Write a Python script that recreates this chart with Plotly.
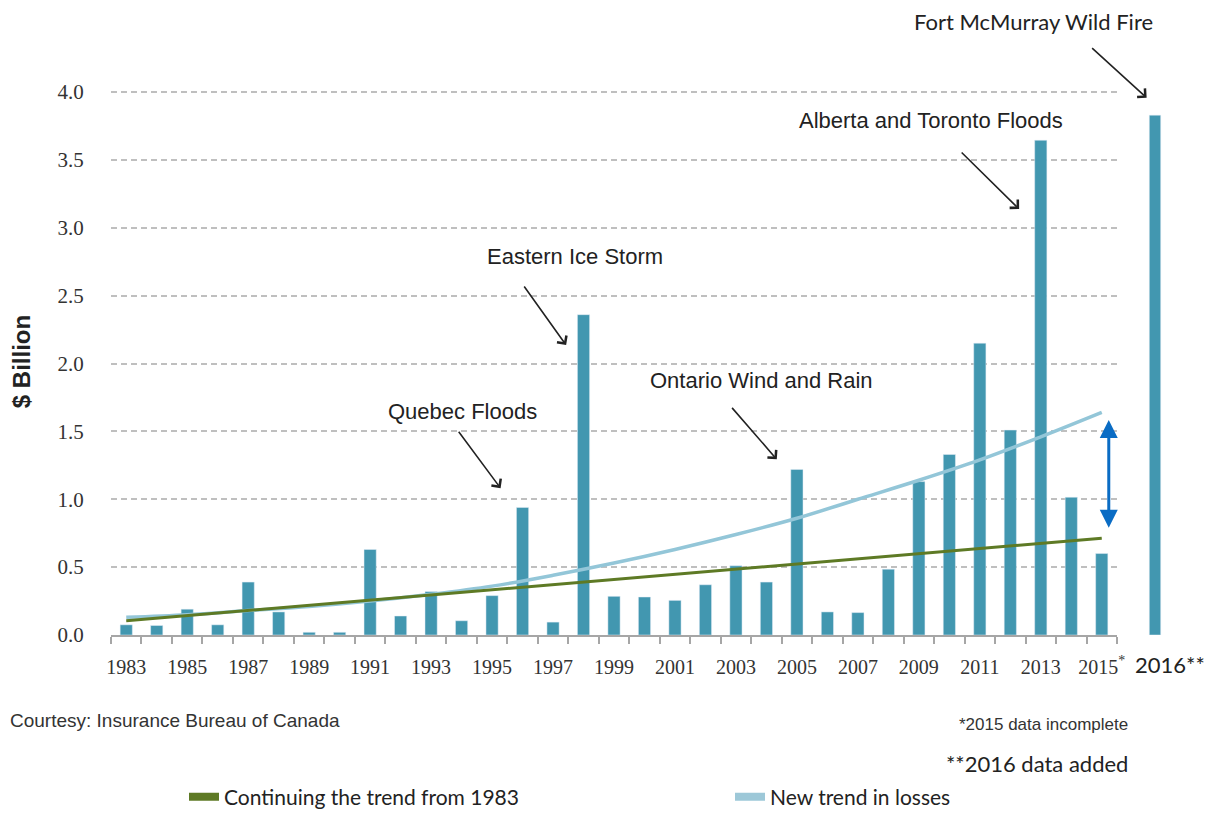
import plotly.graph_objects as go

# ---------------- data ----------------
years = list(range(1983, 2016))
losses = [0.075, 0.07, 0.19, 0.075, 0.39, 0.17, 0.02, 0.02, 0.63, 0.14,
          0.32, 0.105, 0.29, 0.94, 0.095, 2.36, 0.285, 0.28, 0.255, 0.37,
          0.51, 0.39, 1.22, 0.17, 0.165, 0.485, 1.13, 1.33, 2.15, 1.51,
          3.645, 1.015, 0.60]
year_2016 = [2016]
loss_2016 = [3.83]

old_trend_years = [1983, 2015]
old_trend = [0.105, 0.713]

new_trend_years = [1983, 1985, 1987, 1989, 1991, 1993, 1995, 1997, 1999,
                   2001, 2003, 2005, 2007, 2009, 2011, 2013, 2015]
new_trend = [0.13, 0.15, 0.18, 0.21, 0.25, 0.30, 0.36, 0.44, 0.53,
             0.63, 0.74, 0.86, 1.00, 1.14, 1.29, 1.46, 1.64]

tick_years = [1983, 1985, 1987, 1989, 1991, 1993, 1995, 1997, 1999,
              2001, 2003, 2005, 2007, 2009, 2011, 2013, 2015]
tick_labels = ["1983", "1985", "1987", "1989", "1991", "1993", "1995", "1997",
               "1999", "2001", "2003", "2005", "2007", "2009", "2011", "2013",
               "2015<sup>*</sup>"]
y_ticks = [0.0, 0.5, 1.0, 1.5, 2.0, 2.5, 3.0, 3.5, 4.0]
y_tick_labels = ["0.0", "0.5", "1.0", "1.5", "2.0", "2.5", "3.0", "3.5", "4.0"]

BAR = "#4297B0"
GREEN = "#5E7A25"
LIGHT = "#93C6D8"
SANS = "Liberation Sans, Arial, sans-serif"
SERIF = "Liberation Serif, Times New Roman, serif"
CAL = "Lato, Carlito, sans-serif"

# plot-area geometry (pixels) used to place free text
L, R, T, B = 111, 21, 88, 180
W = 1214 - L - R
H = 815 - T - B
Y0 = 815 - B


def px(xp):
    return (xp - L) / W


def py(yp):
    return (Y0 - yp) / H


fig = go.Figure()

fig.add_trace(go.Bar(x=years, y=losses, marker_color=BAR, width=0.4,
                     showlegend=False))
fig.add_trace(go.Bar(x=year_2016, y=loss_2016, marker_color=BAR, width=0.15,
                     xaxis="x2", yaxis="y2", showlegend=False))
fig.add_trace(go.Scatter(x=new_trend_years, y=new_trend, mode="lines",
                         line=dict(color=LIGHT, width=3.5, shape="spline"),
                         showlegend=False))
fig.add_trace(go.Scatter(x=old_trend_years, y=old_trend, mode="lines",
                         line=dict(color=GREEN, width=3), showlegend=False))
# legend entries
fig.add_trace(go.Scatter(x=[None], y=[None], mode="lines",
                         line=dict(color=GREEN, width=8),
                         name="Continuing the trend from 1983", legend="legend"))
fig.add_trace(go.Scatter(x=[None], y=[None], mode="lines",
                         line=dict(color="#9DC8D8", width=8),
                         name="New trend in losses", legend="legend2"))

split = 1006 / W
leg_font = dict(family=CAL, size=21, color="#222222")
YMAX = 4.03

fig.update_layout(
    width=1214, height=815,
    margin=dict(l=L, r=R, t=T, b=B, autoexpand=False),
    paper_bgcolor="white", plot_bgcolor="white",
    xaxis=dict(domain=[0, split], range=[1982.5, 2015.5],
               tickvals=tick_years, ticktext=tick_labels,
               ticks="outside", ticklen=13, tickcolor="rgba(0,0,0,0)",
               tickfont=dict(family=SERIF, size=20, color="#333333"),
               showline=True, linecolor="#A6A6A6", linewidth=1.5,
               showgrid=False, zeroline=False,
               minor=dict(tick0=1982.5, dtick=1, ticks="outside",
                          ticklen=7, tickcolor="#A6A6A6", tickwidth=1.5,
                          showgrid=False)),
    yaxis=dict(range=[0, YMAX], tickvals=y_ticks, ticktext=y_tick_labels,
               ticks="outside", ticklen=22, tickcolor="rgba(0,0,0,0)",
               tickfont=dict(family=SERIF, size=21, color="#333333"),
               showgrid=True, gridcolor="#BFBFBF", gridwidth=1.5,
               griddash="6px,4px", zeroline=False, showline=False,
               title=dict(text="<b>$ Billion</b>", standoff=20,
                          font=dict(family=SANS, size=24, color="#222222"))),
    xaxis2=dict(domain=[split, 1], range=[2015.5, 2016.5], anchor="y2",
                visible=False),
    yaxis2=dict(range=[0, YMAX], anchor="x2", visible=False, showgrid=False),
    legend=dict(orientation="h", x=px(184), y=py(797), xanchor="left",
                yanchor="middle", font=leg_font, bgcolor="rgba(0,0,0,0)",
                borderwidth=0),
    legend2=dict(orientation="h", x=px(730), y=py(797), xanchor="left",
                 yanchor="middle", font=leg_font, bgcolor="rgba(0,0,0,0)",
                 borderwidth=0),
)

ann_font = dict(family=SANS, size=22, color="#222222")
labels = [
    ("Eastern Ice Storm", 575, 256),
    ("Quebec Floods", 462, 411),
    ("Ontario Wind and Rain", 761, 380),
    ("Alberta and Toronto Floods", 931, 120),
]
for text, xp, yp in labels:
    fig.add_annotation(text=text, xref="paper", yref="paper",
                       x=px(xp), y=py(yp), showarrow=False, font=ann_font,
                       xanchor="center", yanchor="middle")

fig.add_annotation(text="Fort McMurray Wild Fire", xref="paper", yref="paper",
                   x=px(1033), y=py(21), showarrow=False, xanchor="center",
                   yanchor="middle",
                   font=dict(family=CAL, size=22, color="#222222"))

arrows = [  # tip (x data, y data), tail offset px
    (1997.43, 2.136, -43, -60),
    (1995.28, 1.081, -43, -58),
    (2004.34, 1.294, -46, -53),
    (2012.29, 3.138, -59, -58),
]
for x, y, ax, ay in arrows:
    fig.add_annotation(x=x, y=y, xref="x", yref="y", ax=ax, ay=ay,
                       text="", showarrow=True, arrowhead=4, arrowsize=1.4,
                       arrowwidth=1.6, arrowcolor="#222222")
fig.add_annotation(x=2015.89, y=3.958, xref="x2", yref="y2", ax=-56, ay=-51,
                   text="", showarrow=True, arrowhead=4, arrowsize=1.4,
                   arrowwidth=1.6, arrowcolor="#222222")

# blue double arrow between trends
fig.add_annotation(x=2015.23, y=0.79, xref="x", yref="y",
                   ax=2015.23, ay=1.595, axref="x", ayref="y",
                   text="", showarrow=True, arrowhead=2, startarrowhead=2,
                   arrowside="end+start", arrowsize=1.2, startarrowsize=1.2,
                   arrowwidth=3, arrowcolor="#0A6CC4")

# x label of 2016 and footnotes
fig.add_annotation(text="2016**", xref="paper", yref="paper",
                   x=px(1170), y=py(664), showarrow=False, xanchor="center",
                   yanchor="middle",
                   font=dict(family=CAL, size=22, color="#222222"))
fig.add_annotation(text="Courtesy: Insurance Bureau of Canada", xref="paper",
                   yref="paper", x=px(8), y=py(720), xanchor="left",
                   yanchor="middle", showarrow=False,
                   font=dict(family=SANS, size=19, color="#333333"))
fig.add_annotation(text="*2015 data incomplete", xref="paper", yref="paper",
                   x=px(1130), y=py(724), xanchor="right", yanchor="middle",
                   showarrow=False, font=dict(family=SANS, size=17, color="#333333"))
fig.add_annotation(text="**2016 data added", xref="paper", yref="paper",
                   x=px(1130), y=py(763), xanchor="right", yanchor="middle",
                   showarrow=False, font=dict(family=CAL, size=22, color="#222222"))

fig.write_html("out.html")
